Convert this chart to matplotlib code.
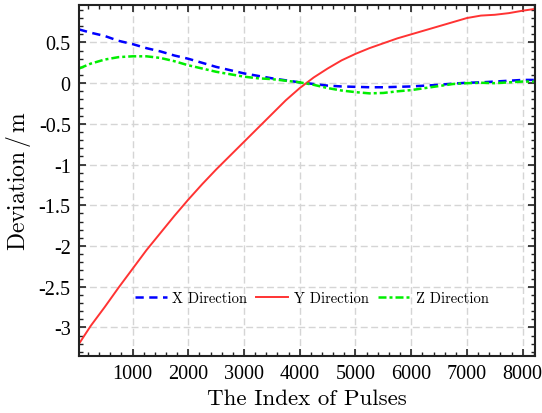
import numpy as np
import matplotlib.pyplot as plt
from matplotlib.ticker import MultipleLocator

plt.rcParams['font.family'] = 'serif'
plt.rcParams['font.serif'] = ['cmr10']
plt.rcParams['mathtext.fontset'] = 'cm'
plt.rcParams['axes.unicode_minus'] = False
plt.rcParams['axes.formatter.use_mathtext'] = True

# pulse index samples
pulses = [40, 250, 500, 750, 1000, 1250, 1500, 1750, 2000, 2250, 2500, 2750, 3000,
          3250, 3500, 3750, 4000, 4250, 4500, 4750, 5000, 5250, 5500, 5750, 6000,
          6250, 6500, 6750, 7000, 7250, 7500, 7750, 8000, 8200]

# deviation along each direction (m)
dev_x = [0.66, 0.62, 0.58, 0.52, 0.48, 0.43, 0.39, 0.34, 0.30, 0.25, 0.20, 0.16, 0.12,
         0.09, 0.06, 0.035, 0.01, -0.01, -0.03, -0.04, -0.045, -0.05, -0.05, -0.045, -0.04,
         -0.03, -0.02, -0.005, 0.005, 0.01, 0.02, 0.03, 0.04, 0.04]
dev_y = [-3.20, -2.98, -2.75, -2.51, -2.28, -2.05, -1.84, -1.63, -1.43, -1.24, -1.06, -0.89, -0.72,
         -0.55, -0.38, -0.21, -0.06, 0.07, 0.18, 0.28, 0.36, 0.43, 0.49, 0.55, 0.60,
         0.65, 0.70, 0.75, 0.80, 0.83, 0.84, 0.86, 0.89, 0.91]
dev_z = [0.18, 0.24, 0.29, 0.32, 0.33, 0.33, 0.31, 0.27, 0.22, 0.18, 0.14, 0.11, 0.08,
         0.06, 0.05, 0.03, 0.01, -0.02, -0.06, -0.09, -0.11, -0.125, -0.12, -0.10, -0.085,
         -0.06, -0.035, -0.01, 0.0, 0.005, 0.0, 0.01, 0.02, 0.02]

xticks = [1000, 2000, 3000, 4000, 5000, 6000, 7000, 8000]
yticks = [0.5, 0, -0.5, -1, -1.5, -2, -2.5, -3]
ytick_labels = ['0.5', '0', '-0.5', '-1', '-1.5', '-2', '-2.5', '-3']

fig = plt.figure(figsize=(5.42, 4.14), dpi=100)
ax = fig.add_axes([0.1458, 0.1377, 0.8412, 0.8478])

ax.plot(pulses, dev_x, color='#0000ff', lw=1.8, linestyle=(0, (3.3, 2.2)), label='X Direction')
ax.plot(pulses, dev_y, color='#ff3333', lw=1.4, linestyle='-', label='Y Direction')
ax.plot(pulses, dev_z, color='#00ee00', lw=1.8, linestyle=(0, (3.2, 1.2, 1.2, 1.2)), label='Z Direction')

ax.set_xlim(40, 8220)
ax.set_ylim(-3.35, 0.96)
ax.xaxis.set_minor_locator(MultipleLocator(200))
ax.yaxis.set_minor_locator(MultipleLocator(0.1))
ax.set_xticks(xticks)
ax.set_xticklabels([str(v) for v in xticks], fontfamily='Liberation Serif', fontsize=14.5)
ax.set_yticks(yticks)
ax.set_yticklabels(ytick_labels, fontfamily='Liberation Serif', fontsize=14.5)

ax.tick_params(which='both', direction='in', top=True, right=True, color='#222222')
ax.tick_params(which='major', length=5, width=1.2, pad=6)
ax.tick_params(which='minor', length=3, width=1.0)
for s in ax.spines.values():
    s.set_linewidth(1.5)
    s.set_color('#222222')

ax.grid(True, which='major', linestyle=(0, (5, 2.5)), color='#d5d5d5', lw=1.0)

ax.set_xlabel('The Index of Pulses', fontsize=16.5, labelpad=4)
ax.set_ylabel(r'Deviation$\,/\,$m', fontsize=17, labelpad=4)

ax.legend(loc='center', bbox_to_anchor=(0.51, 0.165), ncol=3, frameon=False,
          fontsize=10.5, handlelength=2.2, handletextpad=0.4, columnspacing=0.6)

fig.savefig('out.png', dpi=100)
